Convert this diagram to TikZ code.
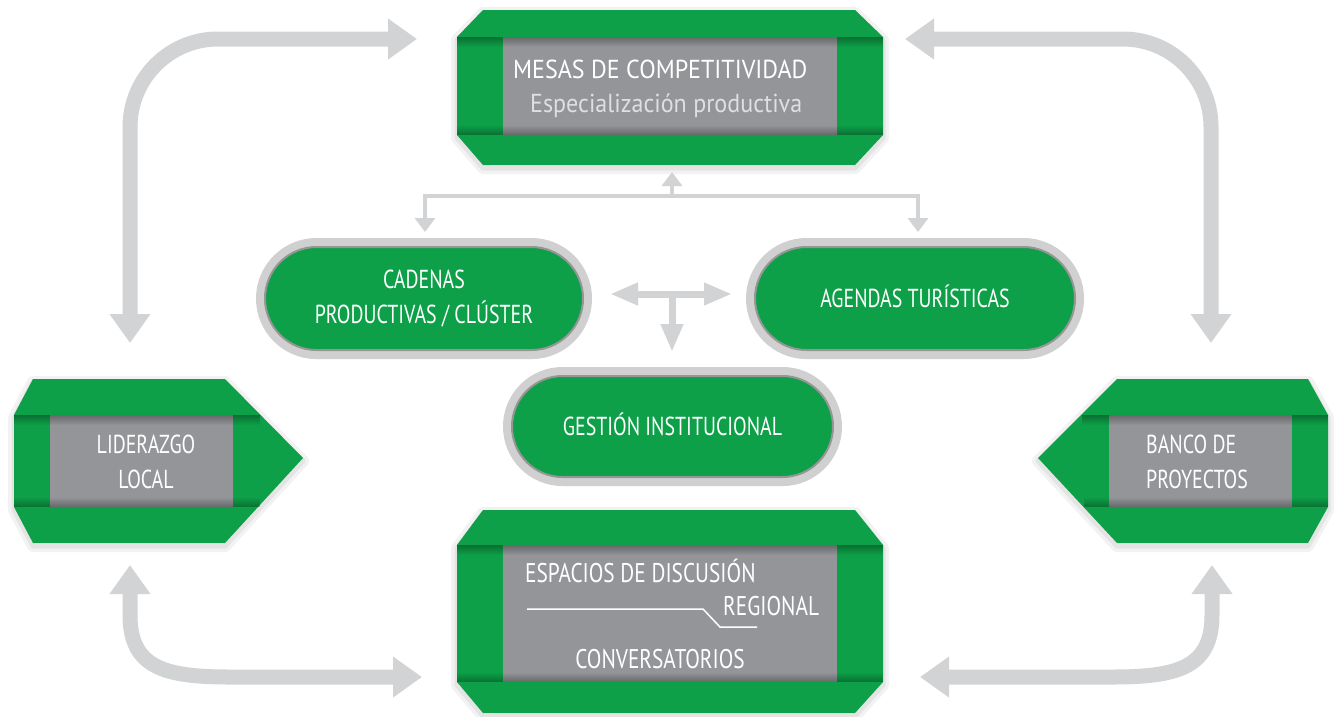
\documentclass[tikz,border=0pt]{standalone}
\usepackage{fontspec}
\newfontfamily\condfont[FakeStretch=0.765]{PT Sans}
\newfontfamily\widecondfont[FakeStretch=0.79]{PT Sans}
\newfontfamily\regfont[FakeStretch=0.925]{PT Sans}
\usetikzlibrary{arrows.meta,shapes.misc,shadows,fadings}

\definecolor{tagreen}{RGB}{13,160,72}
\definecolor{panelgray}{RGB}{147,149,152}
\definecolor{arrowgray}{RGB}{209,211,212}
\definecolor{ringgray}{RGB}{208,208,208}
\definecolor{ringedge}{RGB}{150,150,150}
\definecolor{subtext}{RGB}{222,223,224}

\tikzset{
  softshadow/.style={general shadow={draw=black, draw opacity=0.05, line width=12pt, line join=round, shadow yshift=-3pt},
    general shadow={draw=black, draw opacity=0.06, line width=5pt, line join=round, shadow yshift=-3pt}},
  panel/.style={fill=panelgray, inner sep=0pt},
  condtext/.style={text=white, inner sep=0pt, font=\condfont\fontsize{26}{35}\selectfont},
  widetext/.style={text=white, inner sep=0pt, font=\widecondfont\fontsize{27}{35}\selectfont},
  regtext/.style={text=white, inner sep=0pt, font=\regfont\fontsize{26}{34}\selectfont},
  pill/.style={rounded rectangle, minimum height=103pt, fill=tagreen, draw=ringedge, line width=2pt,
    softshadow, preaction={draw=ringgray, line width=18pt}, condtext, align=center},
  bigarrow/.style={draw=arrowgray, line width=15pt, {Triangle[width=39pt,length=29pt]}-{Triangle[width=39pt,length=29pt]}},
  smallarrow/.style={draw=arrowgray, line width=3.5pt, -{Triangle[width=20pt,length=14pt]}},
  hubarrow/.style={draw=arrowgray, line width=7pt, -{Triangle[width=21pt,length=28pt]}},
}

\begin{document}
\begin{tikzpicture}[x=1pt,y=-1pt]
  \useasboundingbox (0,0) rectangle (1336,716);

  % green frames
  \fill[tagreen, softshadow] (457,37) -- (483,10) -- (855,10) -- (883,37) -- (883,135) -- (855,165) -- (483,165) -- (457,135) -- cycle;
  \fill[tagreen, softshadow] (457,545) -- (483,510) -- (855,510) -- (883,545) -- (883,682) -- (855,713) -- (483,713) -- (457,682) -- cycle;
  \fill[tagreen, softshadow] (14,415) -- (33,379) -- (225,379) -- (303,458) -- (225,543) -- (33,543) -- (14,507) -- cycle;
  \fill[tagreen, softshadow] (1328,415) -- (1308,379) -- (1117,379) -- (1038,458) -- (1117,543) -- (1308,543) -- (1328,507) -- cycle;

  % gray panels
  \node[panel, minimum width=334pt, minimum height=98pt] (mesas) at (670,86) {};
  \node[panel, minimum width=334pt, minimum height=137pt] (espacios) at (670,613.5) {};
  \node[panel, minimum width=183pt, minimum height=92pt] (lider) at (141.5,461) {};
  \node[panel, minimum width=183pt, minimum height=92pt] (banco) at (1200.5,461) {};

  % fold shadows
  \fill[black, opacity=0.3, path fading=south] (457,37) rectangle (883,47);
  \fill[black, opacity=0.3, path fading=north] (457,125) rectangle (883,135);
  \fill[black, opacity=0.3, path fading=south] (457,545) rectangle (883,555);
  \fill[black, opacity=0.3, path fading=north] (457,672) rectangle (883,682);
  \fill[black, opacity=0.3, path fading=south] (14,415) rectangle (260,425);
  \fill[black, opacity=0.3, path fading=north] (14,497) rectangle (260,507);
  \fill[black, opacity=0.3, path fading=south] (1082,415) rectangle (1328,425);
  \fill[black, opacity=0.3, path fading=north] (1084,497) rectangle (1328,507);

  % texts
  \node[regtext, anchor=base west] (mesas title) at (513,78) {MESAS DE COMPETITIVIDAD};
  \node[regtext, text=subtext, anchor=base west] (mesas sub) at (530,112) {Especialización productiva};
  \node[condtext, align=center] (lider text) at (146,461.5) {LIDERAZGO\\LOCAL};
  \node[condtext, align=left, anchor=west] (banco text) at (1146,462) {BANCO DE\\PROYECTOS};
  \node[widetext, anchor=base west] (espacios title) at (525,582) {ESPACIOS DE DISCUSIÓN};
  \node[widetext, anchor=base west] (espacios region) at (723,615) {REGIONAL};
  \node[widetext, anchor=base] (espacios talk) at (660,668) {CONVERSATORIOS};
  \draw[white, line width=1.5pt] (527,609) -- (703,609) -- (720,627) -- (757,627);

  % pills
  \node[pill, minimum width=318pt] (cadenas) at (424,298.5) {CADENAS\\PRODUCTIVAS / CLÚSTER};
  \node[pill, minimum width=320pt, text height=18pt, text depth=0pt] (agendas) at (915,298.5) {AGENDAS TURÍSTICAS};
  \node[pill, minimum width=321pt, minimum height=101pt, text height=18pt, text depth=0pt] (gestion) at (672.5,426.5) {GESTIÓN INSTITUCIONAL};

  % arrow ends
  \coordinate (lider top) at (130,343);
  \coordinate (mesas west) at (417,39);
  \coordinate (mesas east) at (905,39);
  \coordinate (banco top) at (1211,343);
  \coordinate (lider bottom) at (130,565);
  \coordinate (espacios west) at (422,677);
  \coordinate (espacios east) at (920,677);
  \coordinate (banco bottom) at (1212,565);
  \coordinate (tee) at (672,196);
  \coordinate (mesas in) at (672,172);
  \coordinate (cadenas in) at (425,232);
  \coordinate (agendas in) at (918,232);
  \coordinate (hub) at (672,294);
  \coordinate (hub left) at (610,294);
  \coordinate (hub right) at (732,294);
  \coordinate (hub down) at (672,352);

  % big loops
  \draw[bigarrow, rounded corners=88pt] (lider top) |- (mesas west);
  \draw[bigarrow, rounded corners=88pt] (mesas east) -| (banco top);
  \draw[bigarrow] (lider bottom) -- (130,615) .. controls (130,668) and (165,677) .. (230,677) -- (espacios west);
  \draw[bigarrow] (espacios east) -- (1112,677) .. controls (1177,677) and (1212,668) .. (1212,615) -- (banco bottom);

  % small arrows
  \draw[smallarrow] (tee) -- (mesas in);
  \draw[smallarrow] (tee) -| (cadenas in);
  \draw[smallarrow] (tee) -| (agendas in);
  \draw[hubarrow, {Triangle[width=21pt,length=28pt]}-{Triangle[width=21pt,length=28pt]}] (hub left) -- (hub right);
  \draw[hubarrow] (hub) -- (hub down);
\end{tikzpicture}
\end{document}
